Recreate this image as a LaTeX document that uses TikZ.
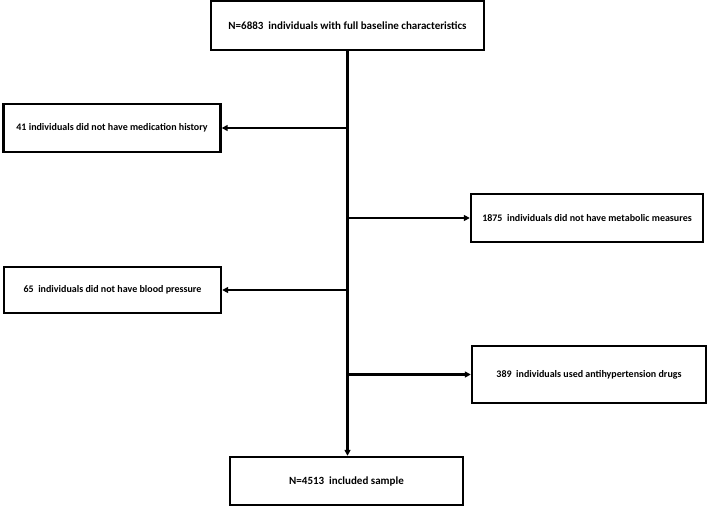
\documentclass[tikz,border=0pt]{standalone}
\usepackage{fontspec}
\setmainfont{Carlito}
\usetikzlibrary{arrows.meta}
\begin{document}
\begin{tikzpicture}[x=1pt,y=-1pt,
  box/.style={draw, line width=2.4pt, inner sep=0pt, font=\bfseries\fontsize{10}{12}\selectfont},
  bigbox/.style={box, font=\bfseries\fontsize{11}{13}\selectfont},
  conn/.style={line width=2.2pt, -{Triangle[length=6pt,width=6pt]}}]
\useasboundingbox (0,0) rectangle (708,511);
\node[bigbox, minimum width=273pt, minimum height=49pt] (top) at (347.5,25.5) {N=6883\ \ individuals with full baseline characteristics};
\node[box, minimum width=217pt, minimum height=48pt] (med) at (112,128) {41 individuals did not have medication history};
\node[box, minimum width=232pt, minimum height=48pt] (met) at (587,218) {1875\ \ individuals did not have metabolic measures};
\node[box, minimum width=217pt, minimum height=46pt] (bp) at (112.5,290) {65\ \ individuals did not have blood pressure};
\node[box, minimum width=234pt, minimum height=57pt] (anti) at (589,374.5) {389\ \ individuals used antihypertension drugs};
\node[bigbox, minimum width=233pt, minimum height=48pt] (inc) at (346.5,481) {N=4513\ \ included sample};
\coordinate (c1) at (top.south |- med.east);
\coordinate (c2) at (top.south |- met.west);
\coordinate (c3) at (top.south |- bp.east);
\coordinate (c4) at (top.south |- anti.west);
\draw[line width=2.2pt] (top.south) -- (c4);
\draw[conn] (c4) -- (top.south |- inc.north);
\draw[conn] (c1) -- (med.east);
\draw[conn] (c2) -- (met.west);
\draw[conn] (c3) -- (bp.east);
\draw[conn] (c4) -- (anti.west);
\end{tikzpicture}
\end{document}
